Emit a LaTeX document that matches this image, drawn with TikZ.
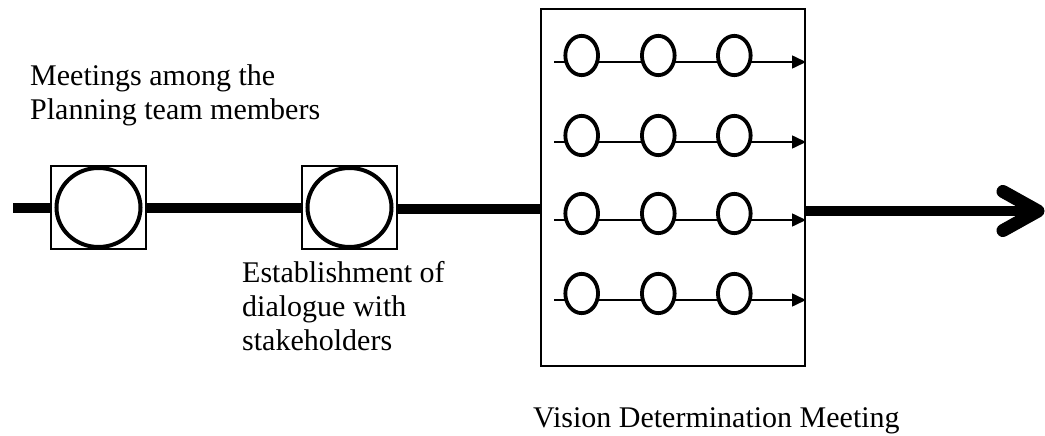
\documentclass[tikz,border=0pt]{standalone}
\usepackage{fontspec}
\setmainfont{Liberation Serif}
\usetikzlibrary{arrows.meta,shapes.geometric}
\begin{document}
\begin{tikzpicture}[x=1pt,y=-1pt,
  stage/.style={draw,line width=2pt,fill=white,minimum width=95pt,minimum height=83pt,inner sep=0pt},
  bigoval/.style={draw,ellipse,line width=4pt,fill=white,minimum width=84pt,minimum height=79pt,inner sep=0pt},
  smalloval/.style={draw,ellipse,line width=3.8pt,fill=white,minimum width=32.7pt,minimum height=39.3pt,inner sep=0pt},
  panel/.style={draw,line width=2pt,minimum width=264pt,minimum height=357pt,inner sep=0pt},
  flow/.style={line width=10pt},
  track/.style={line width=1.6pt,-{Triangle[length=14pt,width=13pt]}},
  chevron/.style={line width=13pt,line cap=round,line join=round},
  caption/.style={font=\fontsize{30}{34}\selectfont,align=left,inner sep=0pt,anchor=base west}]
\useasboundingbox (0,0) rectangle (1045,436);

% the two preparatory stages
\node[stage] (sq1) at (98.5,207.5) {};
\node[bigoval] (c1) at (sq1) {};
\node[stage] (sq2) at (349.5,207.5) {};
\node[bigoval] (c2) at (sq2) {};

% the meeting panel
\node[panel] (box) at (673,187.5) {};

% main process line
\coordinate (start) at (13,208);
\coordinate (tip) at (1038,211);
\draw[flow] (start) -- (start -| sq1.west);
\draw[flow] (sq1.east |- start) -- (sq2.west |- start);
\draw[flow] (sq2.east |- 0,209) -- (box.west |- 0,209);
\draw[flow] (box.east |- tip) -- (tip);
\draw[chevron] (tip) ++(-35,-19.5) -- (tip) -- ++(-35,19.5);

% parallel tracks inside the panel
\foreach \i/\y in {1/62,2/142,3/220,4/300}{
  \coordinate (s\i) at (554.3,\y);
  \draw[track] (s\i) -- (s\i -| box.east);
  \node[smalloval] (a\i) at (581.7,\y-6.5) {};
  \node[smalloval] (b\i) at (658.3,\y-6.5) {};
  \node[smalloval] (d\i) at (734.3,\y-6.5) {};
}

% captions (base anchor sits on the last line)
\node[caption] (meet) at (30,119) {Meetings among the\\Planning team members};
\node[caption] (dial) at (242,350) {Establishment of\\dialogue with\\stakeholders};
\node[caption] (vision) at (533,427) {Vision Determination Meeting};
\end{tikzpicture}
\end{document}
